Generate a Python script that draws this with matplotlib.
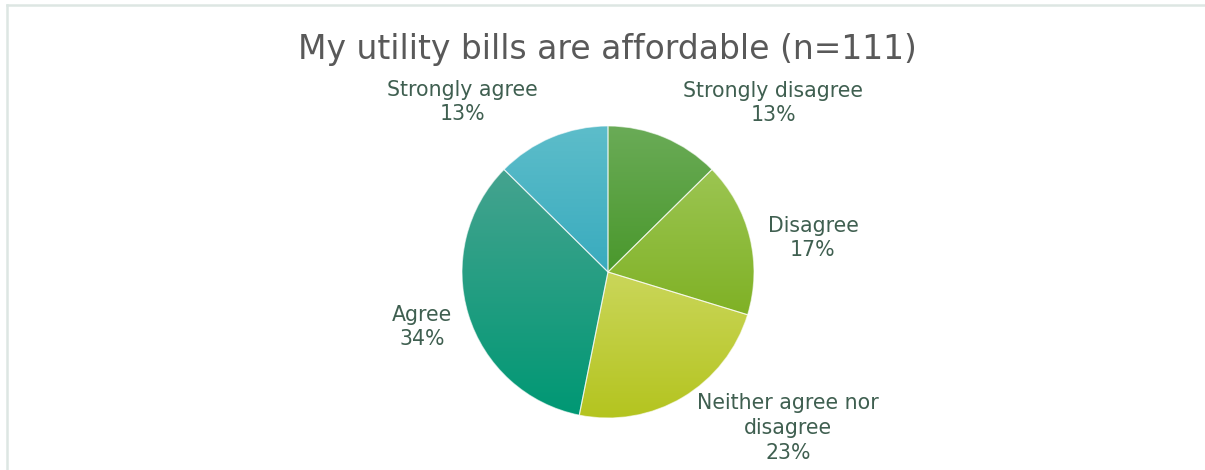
import numpy as np
import matplotlib
matplotlib.use('Agg')
import matplotlib.pyplot as plt
from matplotlib.colors import LinearSegmentedColormap
from matplotlib.lines import Line2D

categories = ['Strongly disagree', 'Disagree', 'Neither agree nor\ndisagree', 'Agree', 'Strongly agree']
counts = [14, 19, 26, 38, 14]          # n = 111
title = 'My utility bills are affordable (n=111)'

# gradient fill per slice: (top, bottom)
grad = [('#6aab57', '#4a982c'),
        ('#9cc552', '#7fb125'),
        ('#cad65a', '#b4c41f'),
        ('#45a38f', '#009874'),
        ('#5dbdca', '#39abbe')]
# label centres in pixels (from top-left)
label_px = [(773, 103), (813, 238), (788, 428), (422, 327), (462, 102)]

W, H = 1205, 470
plt.rcParams['font.family'] = ['DejaVu Sans']
fig = plt.figure(figsize=(W/100, H/100), dpi=100)

cx, cy, r = 608, 272, 146
ax = fig.add_axes([(cx-r)/W, (H-cy-r)/H, 2*r/W, 2*r/H])
wedges, _ = ax.pie(counts, startangle=90, counterclock=False, radius=1,
                   wedgeprops=dict(edgecolor=(1, 1, 1, 0.6), linewidth=0.8))
ax.set_aspect('auto')

for w, (top, bot) in zip(wedges, grad):
    w.set_facecolor('none')
    w.set_clip_on(False)
    ext = w.get_path().get_extents()
    cmap = LinearSegmentedColormap.from_list('g', [bot, top])
    img = ax.imshow(np.linspace(0, 1, 256).reshape(-1, 1), cmap=cmap, origin='lower',
                    extent=[ext.x0, ext.x1, ext.y0, ext.y1], aspect='auto',
                    interpolation='bilinear', zorder=0.5)
    img.set_clip_path(w)
ax.set_xlim(-1, 1); ax.set_ylim(-1, 1)

total = sum(counts)
for cat, c, (px, py) in zip(categories, counts, label_px):
    pct = round(100*c/total)
    fig.text(px/W, 1-py/H, f'{cat}\n{pct}%', ha='center', va='center',
             fontsize=14.8, color='#3f5f50', linespacing=1.3)

fig.text(607/W, 1-50/H, title, ha='center', va='center', fontsize=23.8, color='#595959')

# faint chart-area border
fig.add_artist(Line2D([7/W, 7/W], [0, 1-5/H], color='#dde6e3', lw=1.8))
fig.add_artist(Line2D([7/W, 1], [1-5/H, 1-5/H], color='#dde6e3', lw=1.8))

fig.savefig('out.png', dpi=100)
